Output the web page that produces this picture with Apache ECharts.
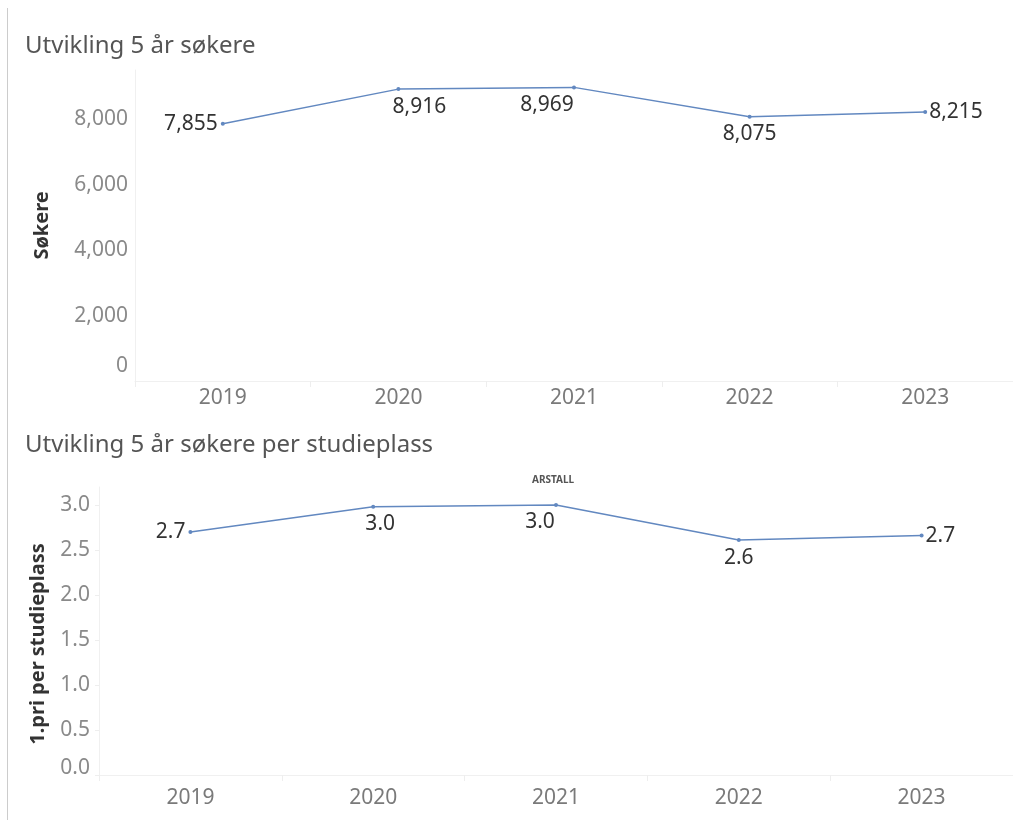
<!DOCTYPE html>
<html>
<head>
<meta charset="utf-8">
<script src="https://cdn.jsdelivr.net/npm/echarts@6/dist/echarts.min.js"></script>
<style>
  html, body { margin: 0; padding: 0; background: #fff; }
  #chart { width: 1013px; height: 820px; }
</style>
</head>
<body>
<div id="chart"></div>
<script>
// data
var years = ['2019', '2020', '2021', '2022', '2023']
var sokere = [7855, 8916, 8969, 8075, 8215]
var perStudieplass = [2.70, 2.98, 3.00, 2.61, 2.66]

var FONT = '"Noto Sans", sans-serif'
var lineColor = '#6288c0'

// label placement per point (Tableau nudges them around the line)
var topLabelPos = [
  { position: 'left', distance: 3 },
  { position: 'bottom', offset: [21, 0] },
  { position: 'bottom', offset: [-27, 0] },
  { position: 'bottom' },
  { position: 'right', distance: 2 }
]
var bottomLabelPos = [
  { position: 'left', distance: 3 },
  { position: 'bottom', offset: [7, 0] },
  { position: 'bottom', offset: [-16, 0] },
  { position: 'bottom' },
  { position: 'right', distance: 2 }
]

function buildData(values, pos) {
  return values.map(function (v, i) {
    return { value: v, label: pos[i] }
  })
}

var chart = echarts.init(document.getElementById('chart'))

var xAxisBase = {
  type: 'category',
  data: years,
  boundaryGap: true,
  axisLine: { lineStyle: { color: '#f0f0f0' } },
  axisTick: { show: true, length: 6, interval: 0, lineStyle: { color: '#eeeeee' } },
  axisLabel: { color: '#7a7a7a', fontSize: 21, fontFamily: FONT }
}

chart.setOption({
  animation: false,
  title: [
    {
      text: 'Utvikling 5 år søkere',
      left: 20, top: 29,
      textStyle: { color: '#555', fontSize: 24, fontWeight: 'normal', fontFamily: FONT }
    },
    {
      text: 'Utvikling 5 år søkere per studieplass',
      left: 20, top: 428,
      textStyle: { color: '#555', fontSize: 24, fontWeight: 'normal', fontFamily: FONT }
    }
  ],
  graphic: [
    {
      type: 'line',
      shape: { x1: 7.5, y1: 8, x2: 7.5, y2: 820 },
      style: { stroke: '#cccccc', lineWidth: 1 }
    },
    {
      type: 'text',
      left: 532, top: 475,
      style: { text: 'ARSTALL', fill: '#555', font: 'bold 10px ' + FONT }
    }
  ],
  grid: [
    { left: 135, top: 70, width: 880, height: 311 },
    { left: 99, top: 487, width: 916, height: 288 }
  ],
  xAxis: [
    Object.assign({ gridIndex: 0 }, xAxisBase, {
      axisLabel: Object.assign({}, xAxisBase.axisLabel, { margin: 7 })
    }),
    Object.assign({ gridIndex: 1 }, xAxisBase, {
      axisLabel: Object.assign({}, xAxisBase.axisLabel, { margin: 13 })
    })
  ],
  yAxis: [
    {
      gridIndex: 0,
      type: 'value',
      min: 0,
      max: 9500,
      interval: 2000,
      name: 'Søkere',
      nameLocation: 'middle',
      nameRotate: 90,
      nameGap: 83,
      nameTextStyle: { color: '#333', fontSize: 20, fontWeight: 'bold', fontFamily: FONT },
      axisLine: { show: true, lineStyle: { color: '#f0f0f0' } },
      axisTick: { show: false },
      splitLine: { show: false },
      axisLabel: {
        color: '#8a8a8a', fontSize: 21, fontFamily: FONT, margin: 7,
        showMaxLabel: false,
        formatter: function (v) {
          if (v === 0) return '{z|0}'
          return v.toLocaleString('en-US')
        },
        rich: { z: { color: '#8a8a8a', fontSize: 21, fontFamily: FONT, padding: [0, 0, 30, 0] } }
      }
    },
    {
      gridIndex: 1,
      type: 'value',
      min: 0,
      max: 3.2,
      interval: 0.5,
      name: '1.pri per studieplass',
      nameLocation: 'middle',
      nameRotate: 90,
      nameGap: 51,
      nameTextStyle: {
        color: '#333', fontSize: 20, fontWeight: 'bold', fontFamily: FONT,
        padding: [0, 26, 0, 0]
      },
      axisLine: { show: true, lineStyle: { color: '#f0f0f0' } },
      axisTick: { show: true, length: 4, lineStyle: { color: '#eeeeee' } },
      splitLine: { show: false },
      axisLabel: {
        color: '#8a8a8a', fontSize: 21, fontFamily: FONT, margin: 9,
        showMaxLabel: false,
        formatter: function (v) {
          if (v === 0) return '{z|0.0}'
          return v.toFixed(1)
        },
        rich: { z: { color: '#8a8a8a', fontSize: 21, fontFamily: FONT, padding: [0, 0, 14, 0] } }
      }
    }
  ],
  series: [
    {
      type: 'line',
      xAxisIndex: 0,
      yAxisIndex: 0,
      data: buildData(sokere, topLabelPos),
      symbol: 'circle',
      symbolSize: 4,
      lineStyle: { color: lineColor, width: 1.5 },
      itemStyle: { color: lineColor },
      label: {
        show: true,
        color: '#333',
        fontSize: 21,
        fontFamily: FONT,
        formatter: function (p) { return p.value.toLocaleString('en-US') }
      }
    },
    {
      type: 'line',
      xAxisIndex: 1,
      yAxisIndex: 1,
      data: buildData(perStudieplass, bottomLabelPos),
      symbol: 'circle',
      symbolSize: 4,
      lineStyle: { color: lineColor, width: 1.5 },
      itemStyle: { color: lineColor },
      label: {
        show: true,
        color: '#333',
        fontSize: 21,
        fontFamily: FONT,
        formatter: function (p) { return p.value.toFixed(1) }
      }
    }
  ]
})
</script>
</body>
</html>
